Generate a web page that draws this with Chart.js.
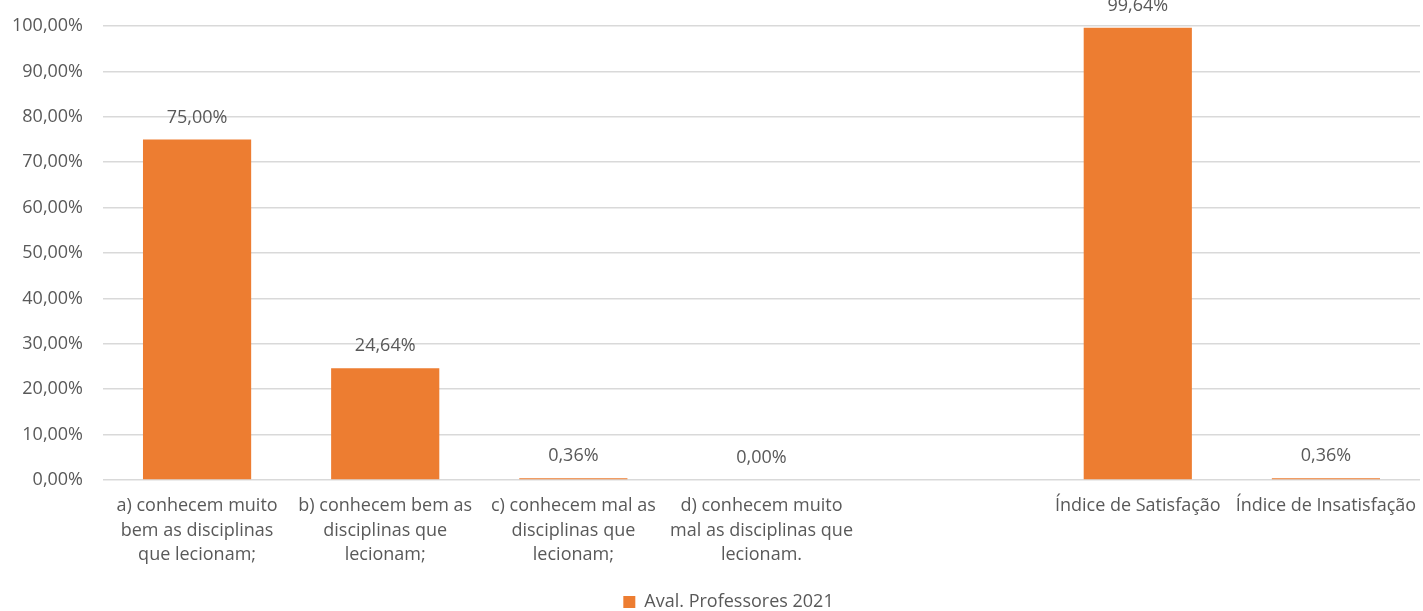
<!DOCTYPE html>
<html>
<head>
<meta charset="utf-8">
<script src="https://cdn.jsdelivr.net/npm/chart.js@4/dist/chart.umd.min.js"></script>
<style>
  html, body { margin: 0; padding: 0; background: #fff; }
  #wrap { width: 1423px; height: 611px; }
</style>
</head>
<body>
<div id="wrap"><canvas id="myChart"></canvas></div>
<script>
// Chart data
var categories = [
    ["a) conhecem muito", "bem as disciplinas", "que lecionam;"],
    ["b) conhecem bem as", "disciplinas que", "lecionam;"],
    ["c) conhecem mal as", "disciplinas que", "lecionam;"],
    ["d) conhecem muito", "mal as disciplinas que", "lecionam."],
    "",
    "Índice de Satisfação",
    "Índice de Insatisfação"
];
var values = [75.00, 24.64, 0.36, 0.00, null, 99.64, 0.36];
var seriesName = "Aval. Professores 2021";
var yTicks = [0, 10, 20, 30, 40, 50, 60, 70, 80, 90, 100];

var textColor = "#595959";
var barColor = "#ED7D31";

function pct(v){
    return v.toFixed(2).replace('.', ',') + '%';
}

// draws the value labels above each bar
var valueLabels = {
    id: 'valueLabels',
    afterDatasetsDraw: function(chart){
        var ctx = chart.ctx;
        var meta = chart.getDatasetMeta(0);
        ctx.save();
        ctx.font = '18px "Open Sans"';
        ctx.fillStyle = textColor;
        ctx.textAlign = 'center';
        ctx.textBaseline = 'middle';
        meta.data.forEach(function(bar, i){
            var v = values[i];
            if(v === null) return;
            ctx.fillText(pct(v), bar.x, bar.y - 22);
        });
        ctx.restore();
    }
};

// nudge the legend a little to the right, like the original
var legendShift = {
    id: 'legendShift',
    afterLayout: function(chart){
        var l = chart.legend;
        l.left = 17;
        l.right = chart.width + 17;
    }
};

var myChart = new Chart(document.getElementById('myChart'), {
    type: 'bar',
    data: {
        labels: categories,
        datasets: [{
            label: seriesName,
            data: values,
            backgroundColor: barColor,
            categoryPercentage: 1,
            barPercentage: 0.575
        }]
    },
    options: {
        responsive: true,
        maintainAspectRatio: false,
        animation: false,
        layout: { padding: { top: 26, right: 3, left: 0, bottom: -10 } },
        font: { family: '"Open Sans"' },
        plugins: {
            legend: {
                position: 'bottom',
                labels: {
                    color: textColor,
                    font: { family: '"Open Sans"', size: 18 },
                    boxWidth: 12,
                    boxHeight: 12,
                    padding: 6
                }
            },
            tooltip: { enabled: false }
        },
        scales: {
            x: {
                grid: { display: false, drawTicks: false },
                border: { display: false },
                ticks: {
                    color: textColor,
                    font: { family: '"Open Sans"', size: 18, lineHeight: 1.35 },
                    maxRotation: 0,
                    autoSkip: false,
                    padding: 14
                },
                afterFit: function(scale){
                    scale.height = 107;
                    scale.paddingLeft = 0;
                    scale.paddingRight = 0;
                }
            },
            y: {
                min: 0,
                max: 100,
                afterBuildTicks: function(scale){
                    scale.ticks = yTicks.map(function(v){ return { value: v }; });
                },
                grid: { color: '#d9d9d9', lineWidth: 1.5, drawTicks: false },
                border: { display: false },
                ticks: {
                    color: textColor,
                    font: { family: '"Open Sans"', size: 18 },
                    padding: 20,
                    callback: function(v){ return pct(v); }
                },
                afterFit: function(scale){
                    scale.width = 103;
                    scale.paddingTop = 0;
                    scale.paddingBottom = 0;
                }
            }
        }
    },
    plugins: [valueLabels, legendShift]
});
</script>
</body>
</html>
